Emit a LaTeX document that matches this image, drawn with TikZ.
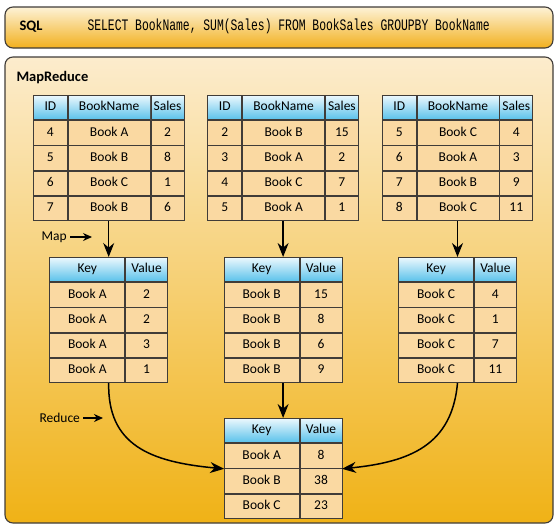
\documentclass[tikz,border=0pt]{standalone}
\usepackage{fontspec}
\setmainfont{Carlito}
\newfontfamily\sqlfont[FakeStretch=0.71]{Liberation Mono}
\usepackage{tikz}
\usetikzlibrary{positioning,arrows.meta,matrix}

\definecolor{cellfill}{RGB}{250,217,162}
\definecolor{headtop}{RGB}{236,248,253}
\definecolor{headbot}{RGB}{88,193,234}
\definecolor{gridline}{RGB}{64,60,56}
\definecolor{paneltop}{RGB}{252,236,205}
\definecolor{panelbot}{RGB}{240,178,22}
\definecolor{bartop}{RGB}{253,242,214}
\definecolor{barbot}{RGB}{242,176,30}

\begin{document}
\begin{tikzpicture}[
  x=1pt, y=-1pt, font=\fontsize{13.5}{15}\selectfont,
  panel/.style={draw=gridline, line width=1.1pt, rounded corners=8pt},
  tbl/.style={matrix of nodes, inner sep=0pt, outer sep=0pt,
              column sep=0pt, row sep=0pt,
              nodes={draw=gridline, line width=0.8pt, fill=cellfill,
                     inner sep=0pt, outer sep=0pt, minimum height=24.4pt,
                     text height=9.5pt, text depth=3pt, anchor=center},
              row 1/.style={nodes={top color=headtop, bottom color=headbot}}},
  srctbl/.style={tbl,
              column 1/.style={nodes={minimum width=34pt}},
              column 2/.style={nodes={minimum width=82pt}},
              column 3/.style={nodes={minimum width=33pt}}},
  kvtbl/.style={tbl,
              column 1/.style={nodes={minimum width=75pt}},
              column 2/.style={nodes={minimum width=42pt}}},
  flow/.style={line width=1.5pt, -{Stealth[length=14pt,width=11pt]}},
  tag/.style={anchor=west},
  tagarrow/.style={line width=1.4pt, -{Stealth[length=9pt,width=8pt]}}
]
\useasboundingbox (0,0) rectangle (559,530);

% background bars
\draw[panel, top color=bartop, bottom color=barbot] (5,7) rectangle (553,48);
\draw[panel, top color=paneltop, bottom color=panelbot] (5,57) rectangle (553,523);

\node[tag] (sqllbl) at (16,27) {\fontsize{14.5}{16}\selectfont\bfseries SQL};
\node[tag] (query) at (84,26)
  {\sqlfont\fontsize{16}{18}\selectfont SELECT BookName, SUM(Sales) FROM BookSales GROUPBY BookName};
\node[tag] (mrlbl) at (13,78) {\fontsize{14.5}{16}\selectfont\bfseries MapReduce};

% source tables
\matrix[srctbl, anchor=north west] (t1) at (33,95) {
  ID & BookName & Sales \\
  4 & Book A & 2 \\
  5 & Book B & 8 \\
  6 & Book C & 1 \\
  7 & Book B & 6 \\
};
\matrix[srctbl, right=23pt of t1] (t2) {
  ID & BookName & Sales \\
  2 & Book B & 15 \\
  3 & Book A & 2 \\
  4 & Book C & 7 \\
  5 & Book A & 1 \\
};
\matrix[srctbl, right=23pt of t2] (t3) {
  ID & BookName & Sales \\
  5 & Book C & 4 \\
  6 & Book A & 3 \\
  7 & Book B & 9 \\
  8 & Book C & 11 \\
};

% map output
\matrix[kvtbl, below=36pt of t1] (k1) {
  Key & Value \\
  Book A & 2 \\
  Book A & 2 \\
  Book A & 3 \\
  Book A & 1 \\
};
\matrix[kvtbl, below=36pt of t2] (k2) {
  Key & Value \\
  Book B & 15 \\
  Book B & 8 \\
  Book B & 6 \\
  Book B & 9 \\
};
\matrix[kvtbl, below=36pt of t3] (k3) {
  Key & Value \\
  Book C & 4 \\
  Book C & 1 \\
  Book C & 7 \\
  Book C & 11 \\
};

% reduce output
\matrix[kvtbl, below=35pt of k2] (red) {
  Key & Value \\
  Book A & 8 \\
  Book B & 38 \\
  Book C & 23 \\
};

\draw[flow] (t1.south) -- (k1.north);
\draw[flow] (t2.south) -- (k2.north);
\draw[flow] (t3.south) -- (k3.north);
\draw[flow] (k2.south) -- (red.north);
\draw[flow] (k1.south) .. controls (107.5,445) and (150,462) .. (red-3-1.north west);
\draw[flow] (k3.south) .. controls (452,445) and (410,462) .. (red-3-2.north east);

% labels
\node[tag] (maplbl) at (38,237) {Map};
\coordinate (mapend) at (92,237);
\draw[tagarrow] (maplbl) -- (mapend);
\node[tag] (redlbl) at (36,418) {Reduce};
\coordinate (redend) at (103,418);
\draw[tagarrow] (redlbl) -- (redend);
\end{tikzpicture}
\end{document}
